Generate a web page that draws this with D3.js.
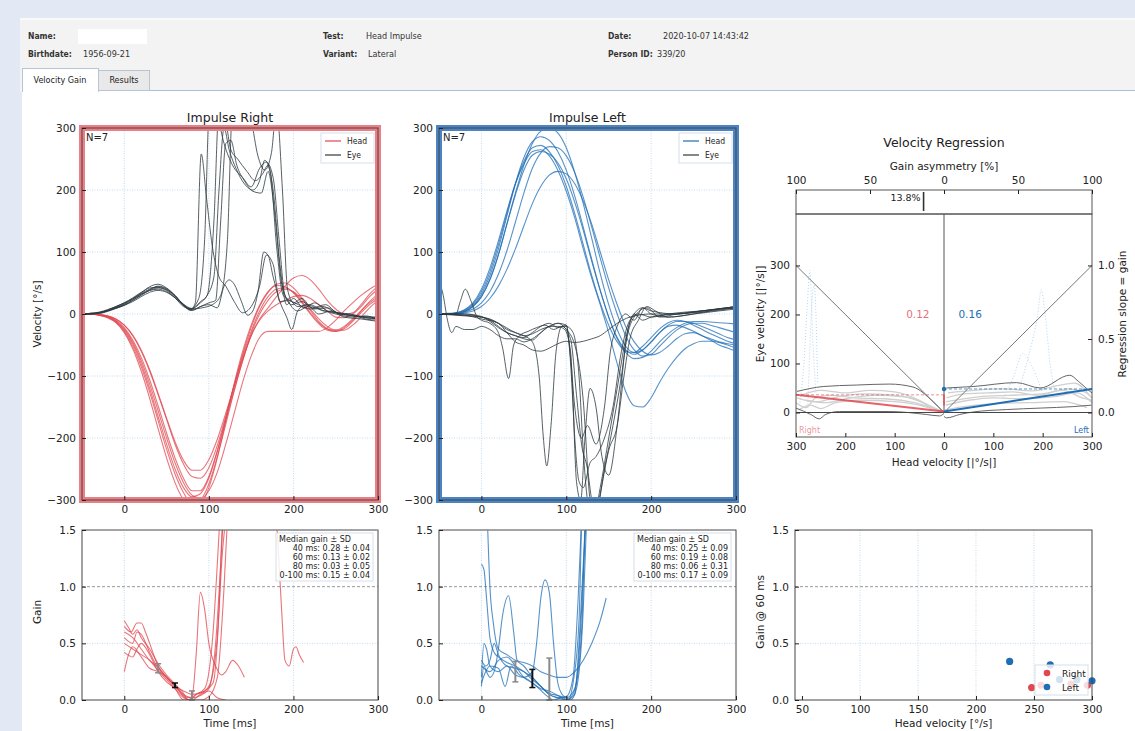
<!DOCTYPE html>
<html>
<head>
<meta charset="utf-8">
<style>
  body { margin: 0; background: #e3e9f4; font-family: "DejaVu Sans", sans-serif; }
  svg { display: block; }
</style>
<title>Head Impulse - Velocity Gain</title>
</head>
<body>
<script src="https://cdn.jsdelivr.net/npm/d3@7"></script>
<script>
// ---------- data ----------
var T = [-50,-40,-30,-20,-10,0,10,20,30,40,50,60,70,80,90,100,110,120,130,140,150,160,170,180,190,200,210,220,230,240,250,260,270,280,290,300];

var headRight = [
  [0,0,-1,-3,-8,-18,-35,-60,-92,-130,-170,-210,-242,-262,-265,-248,-212,-165,-115,-68,-28,5,28,40,42,35,20,2,-14,-24,-26,-20,-8,5,18,28],
  [0,0,-1,-4,-10,-22,-42,-70,-106,-148,-192,-232,-265,-285,-285,-262,-220,-168,-115,-65,-22,12,35,48,50,42,26,6,-12,-24,-28,-24,-12,2,15,25],
  [0,0,-2,-6,-14,-30,-56,-92,-136,-185,-232,-272,-300,-315,-308,-280,-232,-172,-112,-60,-18,14,36,46,44,34,18,0,-16,-26,-28,-22,-10,5,20,32],
  [0,0,-1,-5,-12,-26,-48,-80,-120,-165,-210,-250,-280,-295,-290,-265,-222,-172,-122,-75,-35,-10,5,15,22,28,30,25,15,5,-5,-6,0,12,28,40],
  [0,0,-1,-3,-8,-18,-34,-58,-90,-128,-168,-206,-236,-252,-252,-235,-202,-160,-115,-72,-35,-8,10,28,45,58,62,55,40,22,8,0,2,15,32,45],
  [0,0,-1,-4,-11,-24,-45,-75,-113,-156,-200,-240,-272,-292,-298,-285,-255,-210,-160,-110,-68,-38,-28,-28,-28,-28,-28,-28,-28,-22,-10,5,18,30,40,48],
  [0,0,-2,-5,-13,-28,-52,-85,-126,-172,-218,-258,-288,-305,-300,-274,-230,-178,-124,-75,-32,0,22,36,40,36,24,8,-8,-20,-26,-26,-18,-5,10,22]
];

var eyeRight = [
  [[-50,0],[-40,1],[-30,3],[-20,7],[-10,12],[0,18],[10,26],[20,35],[30,42],[40,43],[50,38],[60,27],[70,14],[78,6],[84,18],[91,258],[97,190],[104,110],[112,60],[120,45],[130,20],[140,2],[150,12],[160,45],[168,95],[176,80],[184,20],[195,22],[205,12],[220,15],[235,5],[250,3],[265,-2],[280,-5],[300,-8]],
  [[-50,0],[-40,0],[-30,2],[-20,5],[-10,10],[0,16],[10,24],[20,33],[30,40],[40,44],[50,40],[60,30],[70,15],[78,8],[88,25],[95,120],[101,340],[110,320],[118,275],[128,240],[140,220],[150,205],[160,235],[168,245],[176,220],[183,120],[190,30],[198,15],[210,20],[225,8],[240,10],[255,0],[270,-2],[285,-8],[300,-10]],
  [[-50,0],[-40,1],[-30,1],[-20,4],[-10,9],[0,14],[10,22],[20,30],[30,38],[40,40],[50,36],[60,26],[70,12],[80,8],[90,20],[98,30],[106,150],[112,330],[120,310],[126,265],[134,250],[145,230],[155,215],[163,225],[170,240],[176,200],[184,80],[192,15],[200,25],[212,10],[225,18],[240,5],[260,0],[280,-4],[300,-6]],
  [[-50,0],[-40,0],[-30,2],[-20,6],[-10,12],[0,18],[10,25],[20,34],[30,44],[40,48],[50,42],[60,30],[70,14],[80,6],[90,12],[100,18],[108,22],[114,150],[120,275],[126,280],[133,240],[142,215],[152,198],[162,195],[170,230],[178,160],[186,50],[195,18],[205,5],[218,12],[230,0],[245,5],[260,-5],[280,-8],[300,-12]],
  [[-50,0],[-40,1],[-30,2],[-20,5],[-10,9],[0,14],[10,20],[20,28],[30,35],[40,38],[50,35],[60,26],[70,14],[80,6],[90,12],[100,15],[110,10],[118,45],[124,55],[130,48],[138,22],[146,-2],[152,5],[158,35],[165,100],[170,95],[176,60],[184,20],[192,-5],[198,-25],[205,5],[215,15],[230,8],[250,0],[270,-5],[285,-3],[300,-10]],
  [[-50,0],[-40,0],[-30,1],[-20,5],[-10,10],[0,15],[10,22],[20,31],[30,38],[40,42],[50,39],[60,29],[70,15],[80,8],[92,10],[104,15],[114,30],[122,120],[128,330],[140,330],[150,310],[158,255],[166,232],[174,260],[180,330],[187,200],[193,40],[200,18],[210,25],[222,10],[238,15],[252,2],[268,0],[285,-6],[300,-8]],
  [[-50,0],[-40,1],[-30,2],[-20,6],[-10,11],[0,17],[10,24],[20,32],[30,39],[40,45],[50,41],[60,29],[70,16],[80,9],[90,18],[98,30],[106,60],[112,200],[118,300],[124,265],[132,235],[142,210],[152,200],[160,215],[166,248],[173,225],[180,110],[188,30],[196,22],[206,15],[220,8],[235,12],[250,2],[270,-3],[300,-5]]
];

var headLeft = [
  [0,0,1,4,12,28,55,95,145,195,240,275,295,300,292,268,228,178,122,65,15,-25,-52,-62,-58,-45,-30,-20,-18,-22,-28,-35,-40,-45,-48,-50],
  [0,0,1,5,14,32,62,105,158,210,252,278,286,280,262,232,190,140,88,38,-5,-38,-58,-65,-58,-45,-30,-18,-12,-12,-15,-20,-26,-32,-38,-42],
  [0,0,2,6,16,36,68,112,162,210,246,268,272,262,240,206,162,112,62,18,-18,-45,-60,-62,-52,-38,-24,-14,-10,-12,-18,-25,-32,-38,-44,-48],
  [0,1,2,7,18,40,74,118,166,210,242,262,265,255,232,198,155,105,58,15,-30,-80,-125,-148,-150,-135,-110,-88,-70,-56,-48,-44,-44,-46,-50,-55],
  [0,0,1,3,8,18,36,64,102,148,195,235,260,270,268,255,228,188,140,90,42,0,-35,-58,-68,-65,-52,-38,-26,-18,-15,-15,-18,-22,-26,-30],
  [0,0,0,2,5,12,25,45,72,105,142,178,206,224,230,226,210,182,145,100,55,15,-20,-45,-60,-66,-62,-52,-40,-32,-30,-35,-42,-50,-55,-60],
  [0,0,1,4,12,28,56,96,145,192,232,256,262,258,244,218,180,135,85,38,-5,-40,-62,-72,-70,-60,-45,-32,-22,-15,-12,-12,-13,-14,-15,-16]
];

var eyeLeft = [
  [[-50,55],[-45,30],[-40,-10],[-35,-30],[-30,-20],[-20,-25],[-10,-25],[0,-20],[10,-25],[20,-35],[30,-40],[40,-40],[50,-45],[60,-40],[70,-30],[80,-20],[90,-20],[98,-25],[105,-60],[110,-200],[115,-270],[120,-280],[128,-240],[135,-230],[145,-200],[155,-150],[165,-60],[175,-10],[185,0],[200,-5],[220,0],[240,3],[260,5],[280,8],[300,10]],
  [[-50,0],[-30,0],[-25,20],[-19,40],[-12,20],[-5,-5],[0,-10],[10,-15],[20,-30],[25,-55],[32,-104],[38,-50],[45,-35],[55,-28],[65,-22],[75,-18],[85,-25],[95,-20],[105,-40],[112,-130],[118,-210],[125,-250],[130,-300],[135,-320],[145,-250],[155,-180],[165,-100],[172,-30],[180,0],[190,10],[200,0],[220,-5],[250,0],[280,5],[300,8]],
  [[-50,0],[-20,-3],[0,-5],[20,-15],[40,-30],[50,-35],[60,-45],[68,-100],[73,-200],[77,-245],[82,-180],[88,-60],[95,-20],[100,-20],[108,-30],[115,-100],[120,-220],[125,-300],[132,-330],[140,-280],[150,-200],[160,-120],[170,-40],[180,0],[190,-10],[200,-5],[230,0],[260,3],[300,10]],
  [[-50,0],[-20,-2],[0,-8],[20,-15],[30,-30],[40,-45],[50,-50],[60,-58],[70,-60],[80,-55],[90,-48],[100,-44],[110,-46],[120,-44],[130,-40],[140,-35],[150,-25],[160,-15],[175,-5],[200,0],[230,0],[260,5],[300,12]],
  [[-50,0],[-20,-2],[0,-5],[10,-10],[20,-20],[30,-30],[40,-35],[50,-40],[60,-42],[70,-30],[80,-20],[90,-15],[100,-18],[104,-60],[108,-150],[112,-270],[117,-300],[122,-200],[128,-120],[135,-150],[142,-230],[150,-260],[160,-180],[170,-50],[180,-5],[195,10],[210,-5],[230,0],[260,5],[300,10]],
  [[-50,0],[-20,0],[0,-5],[10,-8],[20,-15],[30,-25],[40,-30],[50,-35],[60,-32],[70,-25],[80,-20],[90,-15],[100,-25],[110,-50],[120,-140],[128,-300],[134,-330],[140,-290],[150,-220],[160,-180],[168,-100],[175,-40],[185,-10],[195,12],[205,5],[220,-5],[250,0],[280,8],[300,12]],
  [[-50,0],[-20,0],[0,-4],[10,-12],[20,-22],[30,-30],[40,-35],[50,-38],[60,-30],[70,-20],[80,-15],[90,-22],[100,-18],[105,-70],[110,-150],[118,-200],[125,-180],[135,-210],[145,-150],[152,-60],[160,-20],[170,0],[180,-10],[190,10],[200,5],[230,0],[260,5],[300,12]]
];

var gainRight = [
  [[0,0.7],[5,0.64],[10,0.58],[15,0.62],[20,0.55],[30,0.45],[40,0.32],[50,0.22],[60,0.14],[70,0.06],[75,0.0],[80,0.02],[85,0.4],[90,0.95],[95,0.8],[100,0.5],[108,0.3],[115,0.22],[120,0.25],[128,0.35],[135,0.3],[142,0.2]],
  [[0,0.65],[8,0.6],[15,0.68],[20,0.68],[25,0.6],[30,0.5],[40,0.3],[50,0.2],[60,0.12],[70,0.04],[78,0.02],[85,0.05],[95,0.1],[105,0.6],[110,1.2],[113,1.6]],
  [[0,0.55],[10,0.5],[15,0.6],[20,0.58],[30,0.42],[40,0.28],[50,0.2],[60,0.13],[70,0.05],[80,0.02],[90,0.04],[100,0.1],[108,0.5],[114,1.2],[117,1.6]],
  [[0,0.5],[10,0.45],[20,0.4],[30,0.35],[40,0.26],[50,0.2],[60,0.12],[70,0.08],[80,0.05],[90,0.06],[100,0.12],[110,0.55],[116,1.3],[120,1.6]],
  [[0,0.42],[10,0.38],[15,0.45],[20,0.5],[30,0.4],[40,0.25],[50,0.16],[60,0.1],[70,0.0],[78,0.0],[85,0.05],[95,0.08],[105,0.15],[112,0.8],[116,1.6]],
  [[0,0.25],[5,0.4],[10,0.47],[20,0.38],[30,0.28],[40,0.25],[50,0.18],[60,0.1],[70,0.02],[80,0.0],[90,0.0],[100,0.03],[110,0.2],[118,1.0],[122,1.6]],
  [[0,0.6],[10,0.55],[20,0.45],[30,0.35],[40,0.29],[50,0.2],[60,0.13],[70,0.03],[80,0.0],[90,0.05],[100,0.08],[110,0.02],[120,0.0]],
  [[180,1.6],[186,0.8],[190,0.35],[195,0.3],[200,0.45],[203,0.47],[207,0.4],[212,0.33]]
];

var gainLeft = [
  [[0,1.2],[3,1.15],[6,0.9],[10,0.55],[15,0.42],[20,0.38],[30,0.33],[40,0.3],[50,0.25],[60,0.2],[70,0.12],[80,0.05],[90,0.02],[100,0.0],[110,0.05],[115,0.5],[120,1.2],[123,1.6]],
  [[7,1.6],[10,1.0],[14,0.68],[20,0.45],[30,0.4],[40,0.35],[50,0.33],[60,0.3],[70,0.25],[80,0.22],[90,0.2],[100,0.2],[110,0.25],[120,0.35],[130,0.5],[140,0.7],[147,0.9]],
  [[0,0.12],[3,0.3],[6,0.25],[10,0.2],[15,0.25],[20,0.45],[25,0.75],[32,0.92],[38,0.6],[42,0.35],[50,0.3],[60,0.2],[70,0.12],[80,0.05],[90,0.02],[100,0.03],[108,0.2],[114,0.9],[118,1.6]],
  [[0,0.2],[3,0.5],[6,0.45],[10,0.3],[20,0.25],[30,0.3],[40,0.22],[50,0.2],[60,0.25],[65,0.5],[70,0.9],[75,1.06],[80,0.95],[85,0.5],[90,0.15],[95,0.05],[100,0.02],[105,0.0],[112,0.1],[120,0.8],[124,1.6]],
  [[0,0.35],[5,0.3],[10,0.35],[15,0.5],[20,0.4],[30,0.3],[40,0.28],[50,0.25],[60,0.18],[70,0.12],[80,0.06],[90,0.04],[100,0.02],[110,0.1],[118,0.6],[122,1.6]],
  [[0,0.15],[5,0.25],[10,0.3],[20,0.28],[28,0.12],[35,0.3],[45,0.22],[55,0.18],[65,0.12],[75,0.05],[85,0.0],[95,0.02],[102,0.0],[108,0.15],[115,0.7],[118,1.6]],
  [[0,0.3],[10,0.25],[20,0.35],[30,0.38],[40,0.3],[50,0.2],[60,0.15],[70,0.1],[80,0.08],[90,0.04],[100,0.0],[108,0.05],[115,0.4],[120,1.1],[123,1.6]]
];

var statsRight = [{t:40, m:0.28, sd:0.04}, {t:60, m:0.13, sd:0.02}, {t:80, m:0.03, sd:0.05}];
var statsLeft  = [{t:40, m:0.25, sd:0.09}, {t:60, m:0.19, sd:0.08}, {t:80, m:0.06, sd:0.31}];
var meanRight = {m:0.15, sd:0.04};
var meanLeft  = {m:0.17, sd:0.09};

// velocity regression (head velocity negative = right impulses)
var gainRegRight = 0.12, gainRegLeft = 0.16, asymmetry = -13.8;
var outlineRight = [
  [[-298,43],[-245,53],[-178,56],[-110,58],[-63,52],[-22,22],[-2,2]],
  [[-300,9],[-270,-4],[-253,-13],[-240,-4],[-212,2],[-110,2],[-36,-4],[-9,-7],[0,-2]]
];
var outlineLeft = [
  [[5,50],[59,53],[147,61],[195,50],[255,76],[272,64],[296,43],[300,40]],
  [[0,-8],[5,-11],[32,-4],[59,1],[127,6],[195,9],[262,12],[299,15]]
];
var traceRegRight = [
  [[-300,20],[-280,10],[-260,30],[-230,35],[-180,30],[-120,28],[-60,20],[-20,8],[0,2]],
  [[-295,5],[-270,15],[-250,8],[-220,20],[-170,25],[-100,22],[-50,15],[-10,3]],
  [[-290,35],[-250,45],[-200,40],[-150,45],[-100,42],[-50,25],[-15,5]],
  [[-280,25],[-240,20],[-200,28],[-140,35],[-80,32],[-30,14],[0,0]],
  [[-298,30],[-260,22],[-210,33],[-160,38],[-110,36],[-60,28],[-25,10]]
];
var traceRegLeft = [
  [[5,30],[40,38],[90,40],[140,42],[190,35],[240,45],[280,30],[300,25]],
  [[3,15],[50,25],[100,30],[160,28],[220,32],[270,40],[300,20]],
  [[8,40],[60,45],[120,48],[180,44],[230,55],[265,60],[295,35]],
  [[2,5],[40,12],[100,18],[170,20],[240,22],[290,10]],
  [[4,22],[70,32],[130,35],[200,38],[250,48],[285,42],[300,30]]
];
var dotsRegRight = [
  [[-292,20],[-284,100],[-277,220],[-272,290],[-266,150],[-260,40]],
  [[-276,10],[-269,200],[-263,260],[-256,60]]
];
var dotsRegLeft = [
  [[150,40],[170,110],[190,200],[197,250],[205,200],[215,100],[225,40]],
  [[120,30],[140,70],[160,120],[180,90],[200,40]]
];

var gain60Right = [[248,0.11],[256,0.13],[282,0.14],[296,0.13]];
var gain60Left  = [[229,0.34],[264,0.31],[272,0.18],[287,0.18],[300,0.17]];

var headerLabels = ["Name:", "Birthdate:", "Test:", "Variant:", "Date:", "Person ID:"];
var headerValues = ["", "1956-09-21", "Head Impulse", "Lateral", "2020-10-07 14:43:42", "339/20"];
var tabLabels = ["Velocity Gain", "Results"];

// ---------- page ----------
var RED = "#e0474f", BLUE = "#1f6db5", EYE = "#2c3a40";
var svg = d3.select("body").append("svg").attr("width", 1135).attr("height", 731);

svg.append("rect").attr("x", 20).attr("y", 18).attr("width", 1115).attr("height", 74).attr("fill", "#f3f3f3");
svg.append("line").attr("x1", 20).attr("x2", 1135).attr("y1", 19).attr("y2", 19).attr("stroke", "#fff");
svg.append("rect").attr("x", 22).attr("y", 91).attr("width", 1113).attr("height", 640).attr("fill", "#fff");
svg.append("line").attr("x1", 22).attr("x2", 1135).attr("y1", 90.5).attr("y2", 90.5).attr("stroke", "#a8bed4");
svg.append("rect").attr("x", 78).attr("y", 29).attr("width", 69).attr("height", 15).attr("fill", "#fff");

var labelX = [28, 28, 323, 323, 608, 608], valueX = [83, 83, 366, 368, 663, 657], rowY = [39, 57];
headerLabels.forEach(function (l, i) {
  var yy = rowY[i % 2];
  svg.append("text").attr("x", labelX[i]).attr("y", yy)
    .style("font-family", "'DejaVu Sans Condensed'").style("font-size", "8.5px").style("font-weight", "bold")
    .attr("fill", "#333").text(l);
  svg.append("text").attr("x", valueX[i]).attr("y", yy)
    .style("font-family", "'DejaVu Sans Condensed'").style("font-size", "9px").attr("fill", "#333").text(headerValues[i]);
});

// tabs
svg.append("rect").attr("x", 98.5).attr("y", 70.5).attr("width", 51).attr("height", 20).attr("fill", "#e9e9e9").attr("stroke", "#b6c6d6");
svg.append("rect").attr("x", 22.5).attr("y", 68.5).attr("width", 76).attr("height", 23).attr("fill", "#fff").attr("stroke", "#b6c6d6");
svg.append("rect").attr("x", 23).attr("y", 89).attr("width", 75).attr("height", 4).attr("fill", "#fff");
[60, 124].forEach(function (cx, i) {
  svg.append("text").attr("x", cx).attr("y", 83).attr("text-anchor", "middle")
    .style("font-family", "'DejaVu Sans Condensed'").style("font-size", "9px").attr("fill", "#222").text(tabLabels[i]);
});

// ---------- helpers ----------
var uid = 0;
function clipFor(x0, y0, x1, y1) {
  var id = "clip" + (uid++);
  svg.append("clipPath").attr("id", id).append("rect")
    .attr("x", x0).attr("y", y0).attr("width", x1 - x0).attr("height", y1 - y0);
  return "url(#" + id + ")";
}

function styleAxis(g) {
  g.select(".domain").remove();
  g.selectAll(".tick line").attr("stroke", "#222");
  g.selectAll(".tick text").attr("fill", "#222").style("font-family", "DejaVu Sans").style("font-size", "10.5px");
}

function grid(g, x, y, xs, ys, y0, y1, x0, x1) {
  g.selectAll(null).data(xs).enter().append("line")
    .attr("x1", function (d) { return x(d); }).attr("x2", function (d) { return x(d); })
    .attr("y1", y0).attr("y2", y1)
    .attr("stroke", "#b5d0e6").attr("stroke-dasharray", "1,1.5").attr("stroke-width", 0.8);
  g.selectAll(null).data(ys).enter().append("line")
    .attr("y1", function (d) { return y(d); }).attr("y2", function (d) { return y(d); })
    .attr("x1", x0).attr("x2", x1)
    .attr("stroke", "#b5d0e6").attr("stroke-dasharray", "1,1.5").attr("stroke-width", 0.8);
}

var line = d3.line().curve(d3.curveMonotoneX)
  .x(function (d) { return d[0]; }).y(function (d) { return d[1]; });

// ---------- impulse panels ----------
function impulsePanel(o) {
  var x = d3.scaleLinear().domain([-50, 300]).range([o.x0, o.x1]);
  var y = d3.scaleLinear().domain([-300, 300]).range([500, 128]);
  var g = svg.append("g");

  grid(g, x, y, [0, 100, 200], [-200, -100, 0, 100, 200], 128, 500, o.x0, o.x1);

  var lines = g.append("g").attr("clip-path", clipFor(o.x0, 128, o.x1, 500));
  o.heads.forEach(function (tr) {
    lines.append("path")
      .attr("d", line(tr.map(function (v, i) { return [x(T[i]), y(v)]; })))
      .attr("fill", "none").attr("stroke", o.color).attr("stroke-width", 1.1).attr("stroke-opacity", 0.75);
  });
  o.eyes.forEach(function (tr) {
    lines.append("path")
      .attr("d", line(tr.map(function (p) { return [x(p[0]), y(p[1])]; })))
      .attr("fill", "none").attr("stroke", EYE).attr("stroke-width", 1).attr("stroke-opacity", 0.8);
  });

  g.append("rect").attr("x", o.x0).attr("y", 128).attr("width", o.x1 - o.x0).attr("height", 372)
    .attr("fill", "none").attr("stroke", o.border).attr("stroke-width", 6);
  g.append("rect").attr("x", o.x0).attr("y", 128).attr("width", o.x1 - o.x0).attr("height", 372)
    .attr("fill", "none").attr("stroke", "#444").attr("stroke-width", 1);

  g.append("g").attr("transform", "translate(0,500)")
    .call(d3.axisBottom(x).tickValues([0, 100, 200, 300]).tickSize(-4).tickPadding(6)).call(styleAxis);
  g.append("g").attr("transform", "translate(" + o.x0 + ",0)")
    .call(d3.axisLeft(y).tickValues([-300, -200, -100, 0, 100, 200, 300]).tickSize(-4).tickPadding(6)).call(styleAxis);

  g.append("text").attr("x", (o.x0 + o.x1) / 2).attr("y", 122).attr("text-anchor", "middle")
    .style("font-size", "12.5px").attr("fill", "#222").text(o.title);
  g.append("text").attr("x", o.x0 + 4).attr("y", 141).style("font-size", "10px").attr("fill", "#222").text("N=" + o.heads.length);

  var lg = g.append("g").attr("transform", "translate(" + (o.x1 - 57) + ",133)");
  lg.append("rect").attr("width", 53).attr("height", 30).attr("fill", "#fff").attr("stroke", "#d4e0ea");
  [["Head", o.color], ["Eye", EYE]].forEach(function (d, i) {
    lg.append("line").attr("x1", 4).attr("x2", 20).attr("y1", 8 + i * 14).attr("y2", 8 + i * 14)
      .attr("stroke", d[1]).attr("stroke-width", 1.2);
    lg.append("text").attr("x", 26).attr("y", 11 + i * 14).style("font-family", "'DejaVu Sans Condensed'")
      .style("font-size", "8.5px").attr("fill", "#222").text(d[0]);
  });
}

impulsePanel({x0: 82, x1: 378, title: "Impulse Right", color: RED, border: "#ec7f85", heads: headRight, eyes: eyeRight});
impulsePanel({x0: 439, x1: 736, title: "Impulse Left", color: BLUE, border: "#4a84c4", heads: headLeft, eyes: eyeLeft});

svg.append("text").attr("transform", "translate(41,314) rotate(-90)").attr("text-anchor", "middle")
  .style("font-size", "10.5px").attr("fill", "#222").text("Velocity [°/s]");

// ---------- gain panels ----------
function gainPanel(o) {
  var x = d3.scaleLinear().domain([-50, 300]).range([o.x0, o.x1]);
  var y = d3.scaleLinear().domain([0, 1.5]).range([700, 530]);
  var g = svg.append("g");

  grid(g, x, y, [0, 100, 200], [0.5], 530, 700, o.x0, o.x1);
  g.append("line").attr("x1", o.x0).attr("x2", o.x1).attr("y1", y(1)).attr("y2", y(1))
    .attr("stroke", "#999").attr("stroke-dasharray", "3,2");

  var lines = g.append("g").attr("clip-path", clipFor(o.x0, 530, o.x1, 700));
  o.traces.forEach(function (tr) {
    lines.append("path")
      .attr("d", line(tr.map(function (p) { return [x(p[0]), y(p[1])]; })))
      .attr("fill", "none").attr("stroke", o.color).attr("stroke-width", 1.1).attr("stroke-opacity", 0.75);
  });

  o.stats.forEach(function (s) {
    var c = s.t === 60 ? "#111" : "#8a8a8a";
    var lo = y(Math.max(0, s.m - s.sd)), hi = y(s.m + s.sd);
    g.append("line").attr("x1", x(s.t)).attr("x2", x(s.t)).attr("y1", lo).attr("y2", hi).attr("stroke", c).attr("stroke-width", 2);
    [lo, hi].forEach(function (yy) {
      g.append("line").attr("x1", x(s.t) - 3).attr("x2", x(s.t) + 3).attr("y1", yy).attr("y2", yy).attr("stroke", c).attr("stroke-width", 1.5);
    });
  });

  g.append("rect").attr("x", o.x0).attr("y", 530).attr("width", o.x1 - o.x0).attr("height", 170)
    .attr("fill", "none").attr("stroke", "#444").attr("stroke-width", 1);
  g.append("line").attr("x1", o.x0).attr("x2", o.x1).attr("y1", 530).attr("y2", 530)
    .attr("stroke", "#aaa").attr("stroke-dasharray", "2,1");

  g.append("g").attr("transform", "translate(0,700)")
    .call(d3.axisBottom(x).tickValues([0, 100, 200, 300]).tickSize(-4).tickPadding(6)).call(styleAxis);
  g.append("g").attr("transform", "translate(" + o.x0 + ",0)")
    .call(d3.axisLeft(y).tickValues([0, 0.5, 1, 1.5]).tickFormat(d3.format(".1f")).tickSize(-4).tickPadding(6)).call(styleAxis);
  g.append("text").attr("x", (o.x0 + o.x1) / 2).attr("y", 727).attr("text-anchor", "middle")
    .style("font-size", "10.5px").attr("fill", "#222").text("Time [ms]");

  var rows = ["Median gain ± SD"].concat(o.stats.map(function (s) {
    return s.t + " ms: " + s.m.toFixed(2) + " ± " + s.sd.toFixed(2);
  })).concat(["0-100 ms: " + o.mean.m.toFixed(2) + " ± " + o.mean.sd.toFixed(2)]);
  var bx = o.x1 - 102;
  g.append("rect").attr("x", bx).attr("y", 533).attr("width", 97).attr("height", 48)
    .attr("fill", "#fff").attr("fill-opacity", 0.85).attr("stroke", "#d4e0ea");
  rows.forEach(function (r, i) {
    g.append("text").attr("x", i === 0 ? bx + 3 : bx + 94).attr("y", 542 + i * 9)
      .attr("text-anchor", i === 0 ? "start" : "end")
      .style("font-size", "8px").attr("fill", "#222").text(r);
  });
}

gainPanel({x0: 82, x1: 378, color: RED, traces: gainRight, stats: statsRight, mean: meanRight});
gainPanel({x0: 439, x1: 736, color: BLUE, traces: gainLeft, stats: statsLeft, mean: meanLeft});
svg.append("text").attr("transform", "translate(41,612) rotate(-90)").attr("text-anchor", "middle")
  .style("font-size", "10.5px").attr("fill", "#222").text("Gain");

// ---------- velocity regression ----------
(function () {
  var x0 = 796, x1 = 1092, yTop = 214, yBot = 437;
  var x = d3.scaleLinear().domain([-300, 300]).range([x0, x1]);
  var xa = d3.scaleLinear().domain([-100, 100]).range([x0, x1]);
  var y = d3.scaleLinear().domain([-50, 405]).range([yBot, yTop]);
  var yg = d3.scaleLinear().domain([0, 1]).range([y(0), y(300)]);
  var g = svg.append("g");
  var clip = clipFor(x0, yTop, x1, yBot);
  var pts = function (tr) { return line(tr.map(function (p) { return [x(p[0]), y(p[1])]; })); };

  var inner = g.append("g").attr("clip-path", clip);
  dotsRegRight.concat(dotsRegLeft).forEach(function (tr) {
    inner.append("path").attr("d", pts(tr)).attr("fill", "none").attr("stroke", "#a8d0ee")
      .attr("stroke-width", 0.9).attr("stroke-dasharray", "1,2");
  });
  traceRegRight.concat(traceRegLeft).forEach(function (tr) {
    inner.append("path").attr("d", pts(tr)).attr("fill", "none").attr("stroke", "#cfcfcf").attr("stroke-width", 1.3);
  });
  outlineRight.concat(outlineLeft).forEach(function (tr) {
    inner.append("path").attr("d", pts(tr)).attr("fill", "none").attr("stroke", "#666").attr("stroke-width", 1);
  });

  // unity gain lines
  inner.append("path").attr("d", d3.line()([[x(-300), y(300)], [x(0), y(0)], [x(300), y(300)]]))
    .attr("fill", "none").attr("stroke", "#777").attr("stroke-width", 1);
  inner.append("line").attr("x1", x0).attr("x2", x1).attr("y1", y(0)).attr("y2", y(0)).attr("stroke", "#444");
  inner.append("line").attr("x1", x(0)).attr("x2", x(0)).attr("y1", yTop).attr("y2", y(0)).attr("stroke", "#555");

  // regression
  inner.append("line").attr("x1", x(-300)).attr("x2", x(0)).attr("y1", y(300 * gainRegRight)).attr("y2", y(300 * gainRegRight))
    .attr("stroke", RED).attr("stroke-opacity", 0.6).attr("stroke-dasharray", "3,2");
  inner.append("line").attr("x1", x(0)).attr("x2", x(300)).attr("y1", y(300 * gainRegLeft)).attr("y2", y(300 * gainRegLeft))
    .attr("stroke", BLUE).attr("stroke-opacity", 0.7).attr("stroke-dasharray", "3,2");
  inner.append("line").attr("x1", x(-300)).attr("x2", x(0)).attr("y1", y(300 * gainRegRight)).attr("y2", y(2))
    .attr("stroke", RED).attr("stroke-width", 2).attr("stroke-opacity", 0.85);
  inner.append("line").attr("x1", x(0)).attr("x2", x(300)).attr("y1", y(2)).attr("y2", y(300 * gainRegLeft))
    .attr("stroke", BLUE).attr("stroke-width", 2);
  inner.append("line").attr("x1", x(0)).attr("x2", x(0)).attr("y1", y(15)).attr("y2", y(300 * gainRegRight))
    .attr("stroke", RED).attr("stroke-width", 2).attr("stroke-opacity", 0.7);
  inner.append("circle").attr("cx", x(0)).attr("cy", y(300 * gainRegLeft)).attr("r", 2.2).attr("fill", BLUE);

  g.append("text").attr("x", x(-53)).attr("y", y(200) + 4).attr("text-anchor", "middle")
    .style("font-size", "10.5px").attr("fill", RED).attr("fill-opacity", 0.8).text(gainRegRight.toFixed(2));
  g.append("text").attr("x", x(53)).attr("y", y(200) + 4).attr("text-anchor", "middle")
    .style("font-size", "10.5px").attr("fill", BLUE).text(gainRegLeft.toFixed(2));
  g.append("text").attr("x", x0 + 3).attr("y", 433).style("font-size", "8px").attr("fill", RED).attr("fill-opacity", 0.6).text("Right");
  g.append("text").attr("x", x1 - 3).attr("y", 433).attr("text-anchor", "end").style("font-size", "8px").attr("fill", BLUE).text("Left");

  // frames
  g.append("rect").attr("x", x0).attr("y", 190).attr("width", x1 - x0).attr("height", 24).attr("fill", "none").attr("stroke", "#555");
  g.append("rect").attr("x", x0).attr("y", yTop).attr("width", x1 - x0).attr("height", yBot - yTop).attr("fill", "none").attr("stroke", "#555");

  // asymmetry marker
  g.append("line").attr("x1", xa(asymmetry)).attr("x2", xa(asymmetry)).attr("y1", 192).attr("y2", 211).attr("stroke", "#333").attr("stroke-width", 1.6);
  g.append("text").attr("x", xa(asymmetry) - 3).attr("y", 201).attr("text-anchor", "end")
    .style("font-size", "9.5px").attr("fill", "#222").text(Math.abs(asymmetry).toFixed(1) + "%");

  var fmtAbs = function (d) { return Math.abs(d); };
  g.append("g").attr("transform", "translate(0," + yBot + ")")
    .call(d3.axisBottom(x).tickValues([-300, -200, -100, 0, 100, 200, 300]).tickFormat(fmtAbs).tickSize(-4).tickPadding(6)).call(styleAxis);
  g.append("g").attr("transform", "translate(0,190)")
    .call(d3.axisTop(xa).tickValues([-100, -50, 0, 50, 100]).tickFormat(fmtAbs).tickSize(-4).tickPadding(6)).call(styleAxis);
  g.append("g").attr("transform", "translate(" + x0 + ",0)")
    .call(d3.axisLeft(y).tickValues([0, 100, 200, 300]).tickSize(-4).tickPadding(6)).call(styleAxis);
  g.append("g").attr("transform", "translate(" + x1 + ",0)")
    .call(d3.axisRight(yg).tickValues([0, 0.5, 1]).tickFormat(d3.format(".1f")).tickSize(-4).tickPadding(6)).call(styleAxis);

  g.append("text").attr("x", (x0 + x1) / 2).attr("y", 147).attr("text-anchor", "middle").style("font-size", "12.5px").attr("fill", "#222").text("Velocity Regression");
  g.append("text").attr("x", (x0 + x1) / 2).attr("y", 170).attr("text-anchor", "middle").style("font-size", "10.5px").attr("fill", "#222").text("Gain asymmetry [%]");
  g.append("text").attr("x", (x0 + x1) / 2).attr("y", 466).attr("text-anchor", "middle").style("font-size", "10.5px").attr("fill", "#222").text("Head velocity [|°/s|]");
  g.append("text").attr("transform", "translate(764,314) rotate(-90)").attr("text-anchor", "middle").style("font-size", "10.5px").attr("fill", "#222").text("Eye velocity [|°/s|]");
  g.append("text").attr("transform", "translate(1126,314) rotate(-90)").attr("text-anchor", "middle").style("font-size", "10.5px").attr("fill", "#222").text("Regression slope = gain");
})();

// ---------- gain @ 60 ms scatter ----------
(function () {
  var x0 = 795, x1 = 1092;
  var x = d3.scaleLinear().domain([44, 300]).range([x0, x1]);
  var y = d3.scaleLinear().domain([0, 1.5]).range([700, 530]);
  var g = svg.append("g");

  grid(g, x, y, [100, 150, 200, 250], [0.5], 530, 700, x0, x1);
  g.append("line").attr("x1", x0).attr("x2", x1).attr("y1", y(1)).attr("y2", y(1)).attr("stroke", "#999").attr("stroke-dasharray", "3,2");

  var pts = g.append("g");
  [[gain60Right, RED], [gain60Left, BLUE]].forEach(function (s) {
    pts.selectAll(null).data(s[0]).enter().append("circle")
      .attr("cx", function (d) { return x(d[0]); }).attr("cy", function (d) { return y(d[1]); })
      .attr("r", 3.6).attr("fill", s[1]);
  });

  var lg = g.append("g").attr("transform", "translate(1035,665)");
  lg.append("rect").attr("width", 53).attr("height", 30).attr("fill", "#fff").attr("fill-opacity", 0.8).attr("stroke", "#d4e0ea");
  [["Right", RED], ["Left", BLUE]].forEach(function (d, i) {
    lg.append("circle").attr("cx", 12).attr("cy", 8 + i * 14).attr("r", 3.3).attr("fill", d[1]);
    lg.append("text").attr("x", 27).attr("y", 11.5 + i * 14).style("font-size", "9px").attr("fill", "#222").text(d[0]);
  });

  g.append("rect").attr("x", x0).attr("y", 530).attr("width", x1 - x0).attr("height", 170).attr("fill", "none").attr("stroke", "#444");
  g.append("line").attr("x1", x0).attr("x2", x1).attr("y1", 530).attr("y2", 530).attr("stroke", "#aaa").attr("stroke-dasharray", "2,1");
  g.append("g").attr("transform", "translate(0,700)")
    .call(d3.axisBottom(x).tickValues([50, 100, 150, 200, 250, 300]).tickSize(-4).tickPadding(6)).call(styleAxis);
  g.append("g").attr("transform", "translate(" + x0 + ",0)")
    .call(d3.axisLeft(y).tickValues([0, 0.5, 1, 1.5]).tickFormat(d3.format(".1f")).tickSize(-4).tickPadding(6)).call(styleAxis);
  g.append("text").attr("x", (x0 + x1) / 2).attr("y", 727).attr("text-anchor", "middle").style("font-size", "10.5px").attr("fill", "#222").text("Head velocity [°/s]");
  g.append("text").attr("transform", "translate(764,612) rotate(-90)").attr("text-anchor", "middle").style("font-size", "10.5px").attr("fill", "#222").text("Gain @ 60 ms");
})();
</script>
</body>
</html>
